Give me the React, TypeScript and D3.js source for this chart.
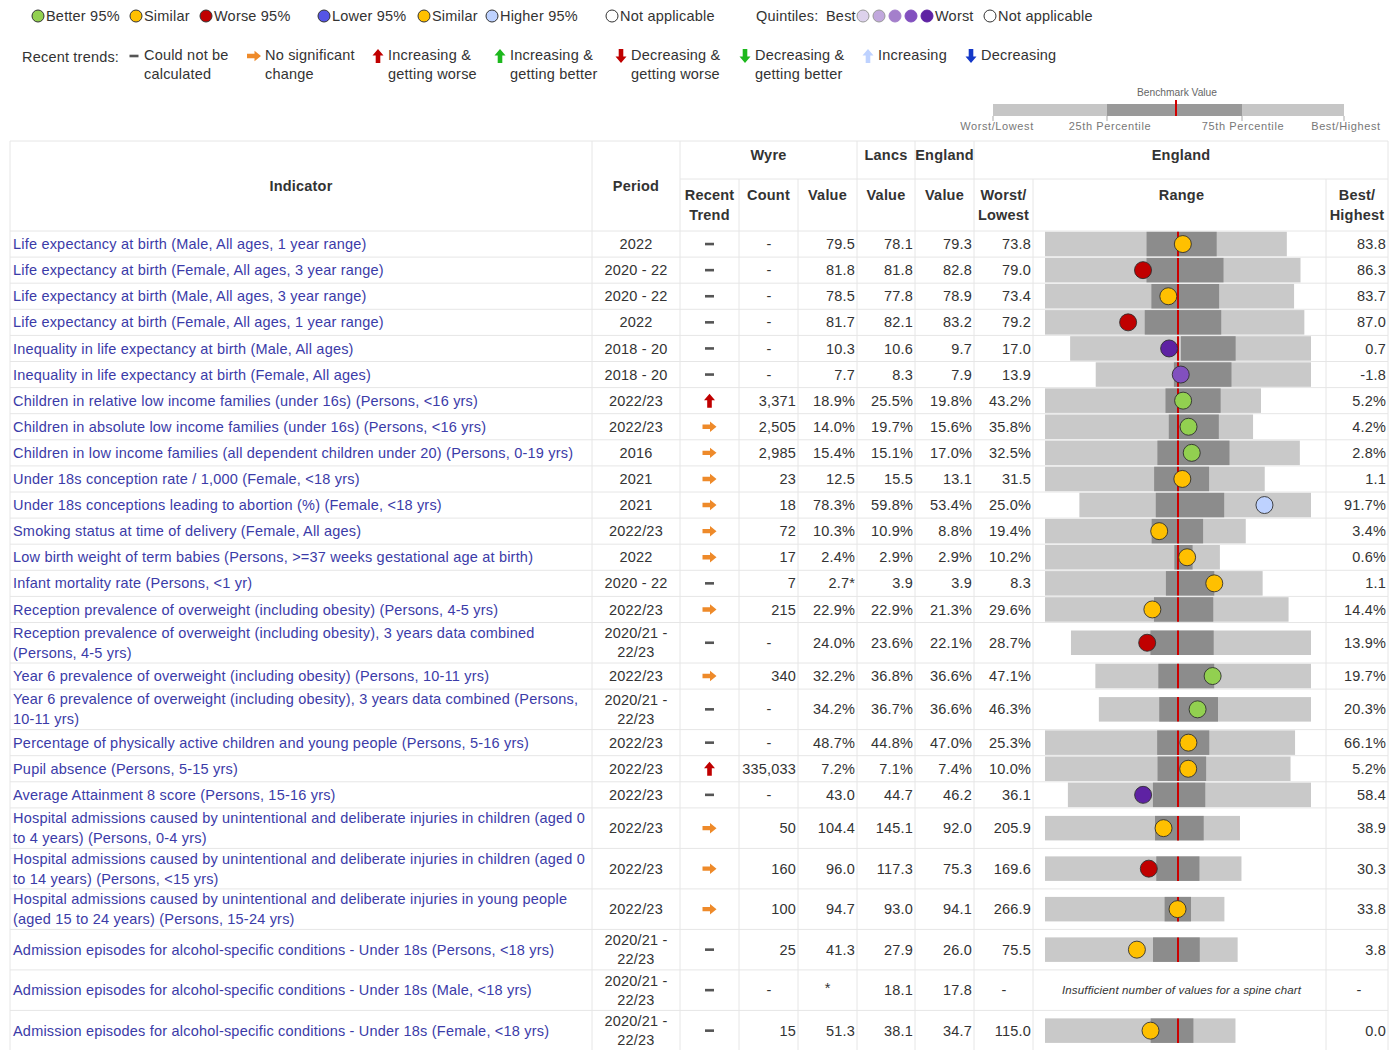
import React from 'react';
import * as d3 from 'd3';

// ---------------- DATA ----------------
const indicatorNames: string[][] = [
  ['Life expectancy at birth (Male, All ages, 1 year range)'],
  ['Life expectancy at birth (Female, All ages, 3 year range)'],
  ['Life expectancy at birth (Male, All ages, 3 year range)'],
  ['Life expectancy at birth (Female, All ages, 1 year range)'],
  ['Inequality in life expectancy at birth (Male, All ages)'],
  ['Inequality in life expectancy at birth (Female, All ages)'],
  ['Children in relative low income families (under 16s) (Persons, <16 yrs)'],
  ['Children in absolute low income families (under 16s) (Persons, <16 yrs)'],
  ['Children in low income families (all dependent children under 20) (Persons, 0-19 yrs)'],
  ['Under 18s conception rate / 1,000 (Female, <18 yrs)'],
  ['Under 18s conceptions leading to abortion (%) (Female, <18 yrs)'],
  ['Smoking status at time of delivery (Female, All ages)'],
  ['Low birth weight of term babies (Persons, >=37 weeks gestational age at birth)'],
  ['Infant mortality rate (Persons, <1 yr)'],
  ['Reception prevalence of overweight (including obesity) (Persons, 4-5 yrs)'],
  ['Reception prevalence of overweight (including obesity), 3 years data combined', '(Persons, 4-5 yrs)'],
  ['Year 6 prevalence of overweight (including obesity) (Persons, 10-11 yrs)'],
  ['Year 6 prevalence of overweight (including obesity), 3 years data combined (Persons,', '10-11 yrs)'],
  ['Percentage of physically active children and young people (Persons, 5-16 yrs)'],
  ['Pupil absence (Persons, 5-15 yrs)'],
  ['Average Attainment 8 score (Persons, 15-16 yrs)'],
  ['Hospital admissions caused by unintentional and deliberate injuries in children (aged 0', 'to 4 years) (Persons, 0-4 yrs)'],
  ['Hospital admissions caused by unintentional and deliberate injuries in children (aged 0', 'to 14 years) (Persons, <15 yrs)'],
  ['Hospital admissions caused by unintentional and deliberate injuries in young people', '(aged 15 to 24 years) (Persons, 15-24 yrs)'],
  ['Admission episodes for alcohol-specific conditions - Under 18s (Persons, <18 yrs)'],
  ['Admission episodes for alcohol-specific conditions - Under 18s (Male, <18 yrs)'],
  ['Admission episodes for alcohol-specific conditions - Under 18s (Female, <18 yrs)'],
];

const periods: string[][] = [
  ['2022'], ['2020 - 22'], ['2020 - 22'], ['2022'], ['2018 - 20'], ['2018 - 20'],
  ['2022/23'], ['2022/23'], ['2016'], ['2021'], ['2021'], ['2022/23'], ['2022'],
  ['2020 - 22'], ['2022/23'], ['2020/21 -', '22/23'], ['2022/23'], ['2020/21 -', '22/23'],
  ['2022/23'], ['2022/23'], ['2022/23'], ['2022/23'], ['2022/23'], ['2022/23'],
  ['2020/21 -', '22/23'], ['2020/21 -', '22/23'], ['2020/21 -', '22/23'],
];

const trends: string[] = [
  'na', 'na', 'na', 'na', 'na', 'na', 'upWorse', 'same', 'same', 'same', 'same', 'same', 'same',
  'na', 'same', 'na', 'same', 'na', 'na', 'upWorse', 'na', 'same', 'same', 'same', 'na', 'na', 'na',
];

const counts: (number | null)[] = [
  null, null, null, null, null, null, 3371, 2505, 2985, 23, 18, 72, 17, 7, 215, null, 340, null,
  null, 335033, null, 50, 160, 100, 25, null, 15,
];

const units: string[] = [
  '', '', '', '', '', '', '%', '%', '%', '', '%', '%', '%', '', '%', '%', '%', '%', '%', '%',
  '', '', '', '', '', '', '',
];

const wyreValues: (number | null)[] = [
  79.5, 81.8, 78.5, 81.7, 10.3, 7.7, 18.9, 14.0, 15.4, 12.5, 78.3, 10.3, 2.4, 2.7, 22.9, 24.0,
  32.2, 34.2, 48.7, 7.2, 43.0, 104.4, 96.0, 94.7, 41.3, null, 51.3,
];
const wyreNotes: string[] = [
  '', '', '', '', '', '', '', '', '', '', '', '', '', '*', '', '', '', '', '', '', '', '', '', '', '', '', '',
];
const lancsValues: number[] = [
  78.1, 81.8, 77.8, 82.1, 10.6, 8.3, 25.5, 19.7, 15.1, 15.5, 59.8, 10.9, 2.9, 3.9, 22.9, 23.6,
  36.8, 36.7, 44.8, 7.1, 44.7, 145.1, 117.3, 93.0, 27.9, 18.1, 38.1,
];
const englandValues: number[] = [
  79.3, 82.8, 78.9, 83.2, 9.7, 7.9, 19.8, 15.6, 17.0, 13.1, 53.4, 8.8, 2.9, 3.9, 21.3, 22.1,
  36.6, 36.6, 47.0, 7.4, 46.2, 92.0, 75.3, 94.1, 26.0, 17.8, 34.7,
];
const worstValues: (number | null)[] = [
  73.8, 79.0, 73.4, 79.2, 17.0, 13.9, 43.2, 35.8, 32.5, 31.5, 25.0, 19.4, 10.2, 8.3, 29.6, 28.7,
  47.1, 46.3, 25.3, 10.0, 36.1, 205.9, 169.6, 266.9, 75.5, null, 115.0,
];
const bestValues: (number | null)[] = [
  83.8, 86.3, 83.7, 87.0, 0.7, -1.8, 5.2, 4.2, 2.8, 1.1, 91.7, 3.4, 0.6, 1.1, 14.4, 13.9,
  19.7, 20.3, 66.1, 5.2, 58.4, 38.9, 30.3, 33.8, 3.8, null, 0.0,
];
// 25th / 75th percentile (worst side / best side)
const q25Values: (number | null)[] = [
  78.0, 81.9, 77.8, 82.2, 9.5, 8.2, 22.0, 17.0, 19.4, 16.4, 47.0, 10.9, 3.1, 4.3, 22.8, 23.8,
  39.1, 38.9, 43.6, 7.8, 43.9, 111.7, 90.7, 111.5, 35.3, null, 51.2,
];
const q75Values: (number | null)[] = [
  80.9, 84.1, 80.6, 84.5, 5.8, 4.0, 12.3, 9.4, 11.0, 8.8, 66.7, 6.8, 2.1, 2.7, 19.1, 19.9,
  32.0, 31.7, 52.1, 6.85, 48.7, 70.0, 60.1, 77.2, 17.9, null, 25.4,
];
const markerCategories: (string | null)[] = [
  'similar', 'worse', 'similar', 'worse', 'q5', 'q4', 'better', 'better', 'better', 'similar',
  'higher', 'similar', 'similar', 'similar', 'similar', 'worse', 'better', 'better', 'similar',
  'similar', 'q5', 'similar', 'worse', 'similar', 'similar', null, 'similar',
];

const compareLegend = [
  { key: 'better', label: 'Better 95%' },
  { key: 'similar', label: 'Similar' },
  { key: 'worse', label: 'Worse 95%' },
];
const benchLegend = [
  { key: 'lower', label: 'Lower 95%' },
  { key: 'similar', label: 'Similar' },
  { key: 'higher', label: 'Higher 95%' },
];
const quintileKeys = ['q1', 'q2', 'q3', 'q4', 'q5'];
const trendLegend = [
  { key: 'na', lines: ['Could not be', 'calculated'] },
  { key: 'same', lines: ['No significant', 'change'] },
  { key: 'upWorse', lines: ['Increasing &', 'getting worse'] },
  { key: 'upBetter', lines: ['Increasing &', 'getting better'] },
  { key: 'downWorse', lines: ['Decreasing &', 'getting worse'] },
  { key: 'downBetter', lines: ['Decreasing &', 'getting better'] },
  { key: 'up', lines: ['Increasing'] },
  { key: 'down', lines: ['Decreasing'] },
];
const spineLegendLabels = ['Worst/Lowest', '25th Percentile', '75th Percentile', 'Best/Highest'];

// ---------------- STYLE ----------------
const FONT = "'Liberation Sans', Arial, Helvetica, sans-serif";
const FS = 14.5;
const LS = 0.2;
const markerColors: Record<string, string> = {
  better: '#92D050', similar: '#FFC000', worse: '#C00000', lower: '#5555E6', higher: '#BED2FF',
  q1: '#DDD2EC', q2: '#C1A8DD', q3: '#A47FCB', q4: '#8250BF', q5: '#5E22A3', none: '#FFFFFF',
};
const trendColors: Record<string, string> = {
  same: '#EE8A2A', upWorse: '#C00000', upBetter: '#1DB81D', downWorse: '#C00000',
  downBetter: '#1DB81D', up: '#BED2FF', down: '#1538C8',
};
const TEXT = '#333';
const LINK = '#3b3ba8';
const GRID = '#e6e6e6';

const COL = {
  left: 10, period: 592, trend: 680, count: 739, value: 798, lancs: 857, england: 915,
  worst: 974, range: 1033, best: 1326, right: 1388,
};
const SPINE_L = 1045;
const SPINE_R = 1311;
const TABLE_TOP = 141;
const HEAD1 = 179;
const BODY_TOP = 231;

function TrendIcon({ kind, x, y }: { kind: string; x: number; y: number }) {
  if (kind === 'na') {
    return <rect x={x - 4.5} y={y - 1.3} width={9} height={2.6} fill="#555" />;
  }
  const path = 'M0,-7 L5.5,-0.5 L2.3,-0.5 L2.3,7 L-2.3,7 L-2.3,-0.5 L-5.5,-0.5 Z';
  let rot = 0;
  if (kind === 'same') rot = 90;
  else if (kind.startsWith('down')) rot = 180;
  const sc = kind === 'same' ? 'scale(0.95,1)' : '';
  return (
    <path d={path} fill={trendColors[kind]} transform={`translate(${x},${y}) rotate(${rot}) ${sc}`} />
  );
}

export default function App() {
  const n = indicatorNames.length;
  const heights = indicatorNames.map((nm, i) => (nm.length > 1 || periods[i].length > 1 ? 40.5 : 26.1));
  const tops: number[] = [];
  let acc = BODY_TOP;
  for (let i = 0; i < n; i++) {
    tops.push(acc);
    acc += heights[i];
  }
  const fmt = (v: number, u: string) => v.toFixed(1) + u;
  const fmtCount = d3.format(',');

  const numCell = (txt: string | null, colRight: number, cy: number, key: string) =>
    txt === null ? (
      <text key={key} x={colRight - 29} y={cy} dy="0.35em" textAnchor="middle" fill={TEXT} fontSize={FS}>-</text>
    ) : (
      <text key={key} x={colRight - 2} y={cy} dy="0.35em" textAnchor="end" fill={TEXT} fontSize={FS} letterSpacing={LS}>{txt}</text>
    );

  return (
    <svg width={1399} height={1050} style={{ position: 'absolute', left: 0, top: 0, background: '#fff' }} fontFamily={FONT}>
      <rect x={0} y={0} width={1399} height={1050} fill="#fff" />
      {/* ---------- Legend row 1 ---------- */}
      <g fontSize={FS} fill={TEXT} letterSpacing={LS}>
        {compareLegend.map((d, i) => {
          const xs = [38, 136, 206];
          return (
            <g key={'cl' + i}>
              <circle cx={xs[i]} cy={16} r={6} fill={markerColors[d.key]} stroke="#333" strokeWidth={1} />
              <text x={xs[i] + 8} y={16} dy="0.35em">{d.label}</text>
            </g>
          );
        })}
        {benchLegend.map((d, i) => {
          const xs = [324, 424, 492];
          return (
            <g key={'bl' + i}>
              <circle cx={xs[i]} cy={16} r={6} fill={markerColors[d.key]} stroke="#333" strokeWidth={1} />
              <text x={xs[i] + 8} y={16} dy="0.35em">{d.label}</text>
            </g>
          );
        })}
        <circle cx={612} cy={16} r={6} fill="#fff" stroke="#333" strokeWidth={1} />
        <text x={620} y={16} dy="0.35em">Not applicable</text>
        <text x={756} y={16} dy="0.35em">Quintiles:</text>
        <text x={826} y={16} dy="0.35em">Best</text>
        {quintileKeys.map((k, i) => (
          <circle key={k} cx={863 + i * 16} cy={16} r={6} fill={markerColors[k]} stroke={i < 2 ? '#999' : markerColors[k]} strokeWidth={1} />
        ))}
        <text x={935} y={16} dy="0.35em">Worst</text>
        <circle cx={990} cy={16} r={6} fill="#fff" stroke="#333" strokeWidth={1} />
        <text x={998} y={16} dy="0.35em">Not applicable</text>
      </g>
      {/* ---------- Legend row 2 ---------- */}
      <g fontSize={FS} fill={TEXT} letterSpacing={LS}>
        <text x={22} y={57} dy="0.35em">Recent trends:</text>
        {trendLegend.map((d, i) => {
          const ix = [134, 254, 378, 500, 621, 745, 868, 971][i];
          const tx = [144, 265, 388, 510, 631, 755, 878, 981][i];
          return (
            <g key={'tl' + i}>
              <TrendIcon kind={d.key} x={ix} y={56} />
              {d.lines.map((ln, j) => (
                <text key={j} x={tx} y={55 + j * 19} dy="0.35em">{ln}</text>
              ))}
            </g>
          );
        })}
      </g>
      {/* ---------- Spine legend ---------- */}
      <g>
        <text x={1177} y={92} dy="0.35em" textAnchor="middle" fontSize={11.5} fill="#666" textLength={80} lengthAdjust="spacingAndGlyphs">Benchmark Value</text>
        <rect x={993} y={104} width={351} height={12} fill="#c6c6c6" />
        <rect x={1107} y={104} width={135} height={12} fill="#999" />
        <line x1={1176} x2={1176} y1={100} y2={116} stroke="#d00000" strokeWidth={2} />
        {[993, 1107, 1242, 1344].map((x, i) => (
          <line key={'tk' + i} x1={x} x2={x} y1={116} y2={121} stroke="#aaa" strokeWidth={1} />
        ))}
        {spineLegendLabels.map((l, i) => (
          <text key={'sl' + i} x={[997, 1110, 1243, 1346][i]} y={126} dy="0.35em" textAnchor="middle" fontSize={11} fill="#777" letterSpacing={0.6}>{l}</text>
        ))}
      </g>
      {/* ---------- Table grid ---------- */}
      <g stroke={GRID} strokeWidth={1}>
        <line x1={COL.left} x2={COL.right} y1={TABLE_TOP} y2={TABLE_TOP} />
        <line x1={COL.trend} x2={COL.right} y1={HEAD1} y2={HEAD1} />
        <line x1={COL.left} x2={COL.right} y1={BODY_TOP} y2={BODY_TOP} />
        {tops.map((t, i) => (
          <line key={'h' + i} x1={COL.left} x2={COL.right} y1={t + heights[i]} y2={t + heights[i]} />
        ))}
        {[COL.left, COL.period, COL.trend, COL.lancs, COL.england, COL.worst, COL.right].map((x, i) => (
          <line key={'v' + i} x1={x} x2={x} y1={TABLE_TOP} y2={1050} />
        ))}
        {[COL.count, COL.value, COL.range, COL.best].map((x, i) => (
          <line key={'v2' + i} x1={x} x2={x} y1={HEAD1} y2={1050} />
        ))}
      </g>
      {/* ---------- Headers ---------- */}
      <g fontSize={FS} fontWeight="bold" fill={TEXT} textAnchor="middle" letterSpacing={LS}>
        <text x={(COL.left + COL.period) / 2} y={186} dy="0.35em">Indicator</text>
        <text x={(COL.period + COL.trend) / 2} y={186} dy="0.35em">Period</text>
        <text x={(COL.trend + COL.lancs) / 2} y={155} dy="0.35em">Wyre</text>
        <text x={(COL.lancs + COL.england) / 2} y={155} dy="0.35em">Lancs</text>
        <text x={(COL.england + COL.worst) / 2} y={155} dy="0.35em">England</text>
        <text x={(COL.worst + COL.right) / 2} y={155} dy="0.35em">England</text>
        <text x={(COL.trend + COL.count) / 2} y={195} dy="0.35em">Recent</text>
        <text x={(COL.trend + COL.count) / 2} y={215} dy="0.35em">Trend</text>
        <text x={(COL.count + COL.value) / 2} y={195} dy="0.35em">Count</text>
        <text x={(COL.value + COL.lancs) / 2} y={195} dy="0.35em">Value</text>
        <text x={(COL.lancs + COL.england) / 2} y={195} dy="0.35em">Value</text>
        <text x={(COL.england + COL.worst) / 2} y={195} dy="0.35em">Value</text>
        <text x={(COL.worst + COL.range) / 2} y={195} dy="0.35em">Worst/</text>
        <text x={(COL.worst + COL.range) / 2} y={215} dy="0.35em">Lowest</text>
        <text x={(COL.range + COL.best) / 2 + 2} y={195} dy="0.35em">Range</text>
        <text x={(COL.best + COL.right) / 2} y={195} dy="0.35em">Best/</text>
        <text x={(COL.best + COL.right) / 2} y={215} dy="0.35em">Highest</text>
      </g>
      {/* ---------- Rows ---------- */}
      {indicatorNames.map((names, i) => {
        const cy = tops[i] + heights[i] / 2;
        const u = units[i];
        const eng = englandValues[i];
        const worst = worstValues[i];
        const best = bestValues[i];
        const wyre = wyreValues[i];
        const q25 = q25Values[i];
        const q75 = q75Values[i];
        const cells: React.ReactNode[] = [];
        names.forEach((ln, j) => {
          cells.push(
            <text key={'n' + j} x={COL.left + 3} y={cy + (j - (names.length - 1) / 2) * 20} dy="0.35em" fontSize={FS} letterSpacing={LS} fill={LINK}>{ln}</text>
          );
        });
        periods[i].forEach((p, j) => {
          cells.push(
            <text key={'p' + j} x={(COL.period + COL.trend) / 2} y={cy + (j - (periods[i].length - 1) / 2) * 19} dy="0.35em" textAnchor="middle" fontSize={FS} letterSpacing={LS} fill={TEXT}>{p}</text>
          );
        });
        cells.push(<TrendIcon key="tr" kind={trends[i]} x={(COL.trend + COL.count) / 2} y={cy} />);
        cells.push(numCell(counts[i] === null ? null : fmtCount(counts[i] as number), COL.value, cy, 'c'));
        if (wyre === null) {
          cells.push(<text key="w" x={(COL.value + COL.lancs) / 2} y={cy - 2} dy="0.35em" textAnchor="middle" fontSize={FS} fill={TEXT}>*</text>);
        } else {
          cells.push(numCell(fmt(wyre, u) + wyreNotes[i], COL.lancs, cy, 'w'));
        }
        cells.push(numCell(fmt(lancsValues[i], u), COL.england, cy, 'l'));
        cells.push(numCell(fmt(eng, u), COL.worst, cy, 'e'));
        cells.push(numCell(worst === null ? null : fmt(worst, u), COL.range, cy, 'wo'));
        cells.push(numCell(best === null ? null : fmt(best, u), COL.right, cy, 'b'));

        if (worst === null || best === null || q25 === null || q75 === null) {
          cells.push(
            <text key="ins" x={(COL.range + COL.best) / 2 + 2} y={cy} dy="0.35em" textAnchor="middle" fontSize={11.5} letterSpacing={0.15} fontStyle="italic" fill={TEXT}>Insufficient number of values for a spine chart</text>
          );
        } else {
          const dir = best >= worst ? 1 : -1;
          const maxDist = Math.max(Math.abs(worst - eng), Math.abs(best - eng));
          const x = d3.scaleLinear().domain([eng - dir * maxDist, eng + dir * maxDist]).range([SPINE_L, SPINE_R]);
          const bh = 24.5;
          const by = cy - bh / 2;
          const lx = Math.min(x(worst), x(best));
          const rx = Math.max(x(worst), x(best));
          const dl = Math.min(x(q25), x(q75));
          const dr = Math.max(x(q25), x(q75));
          cells.push(<rect key="sl" x={lx} y={by} width={rx - lx} height={bh} fill="#c9c9c9" />);
          cells.push(<rect key="sd" x={dl} y={by} width={dr - dl} height={bh} fill="#8c8c8c" />);
          cells.push(<line key="sr" x1={x(eng)} x2={x(eng)} y1={by} y2={by + bh} stroke="#cc0000" strokeWidth={2} />);
          const cat = markerCategories[i];
          if (wyre !== null && cat) {
            cells.push(<circle key="m" cx={x(wyre)} cy={cy} r={8.5} fill={markerColors[cat]} stroke="#2a2a2a" strokeWidth={1} strokeOpacity={0.85} />);
          }
        }
        return <g key={'row' + i}>{cells}</g>;
      })}
    </svg>
  );
}
